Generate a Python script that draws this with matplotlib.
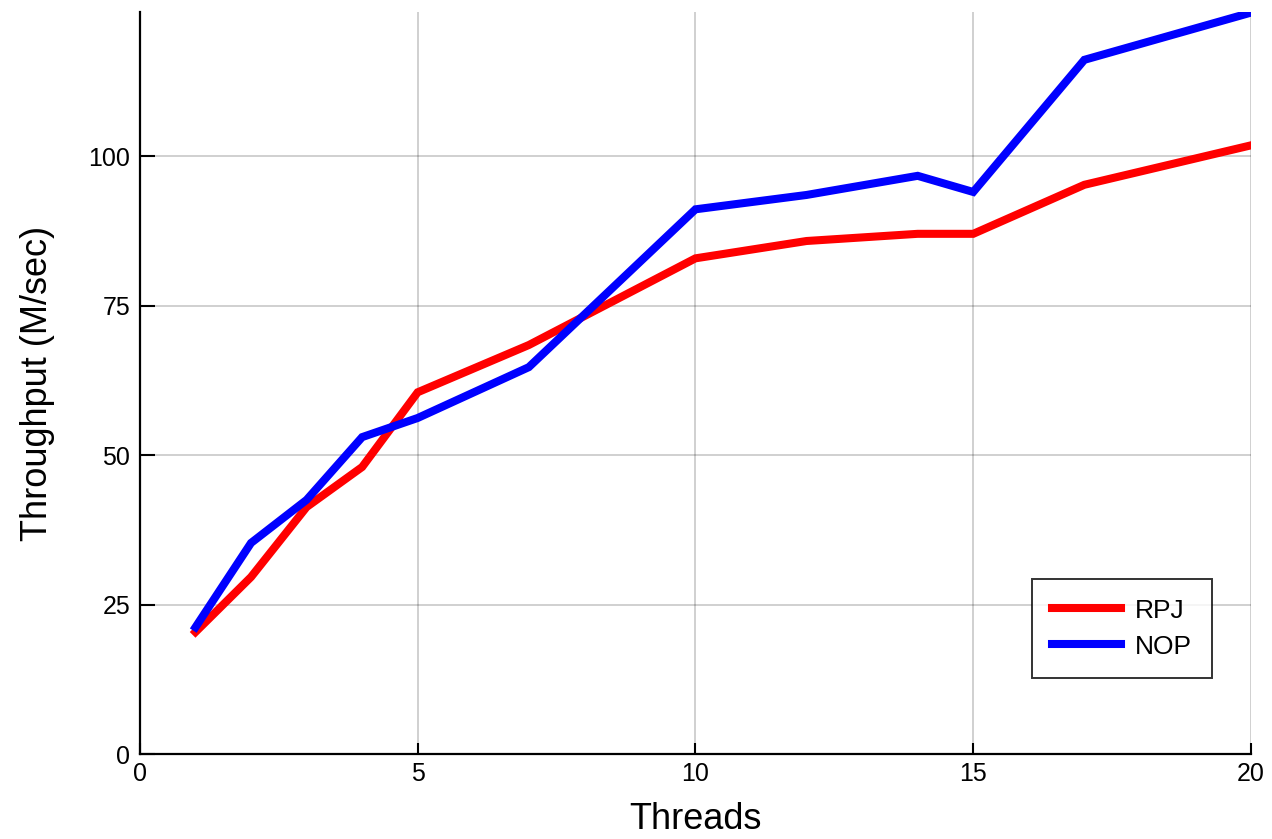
import matplotlib
matplotlib.use("Agg")
import matplotlib.pyplot as plt

plt.rcParams["font.family"] = ["Liberation Sans", "DejaVu Sans"]

# Data
threads = [1, 2, 3, 4, 5, 7, 10, 12, 14, 15, 17, 20]
rpj = [20.4, 29.6, 41.3, 48.0, 60.5, 68.4, 82.9, 85.8, 87.0, 87.0, 95.2, 101.8]
nop = [21.2, 35.3, 42.5, 53.0, 56.2, 64.7, 91.1, 93.5, 96.7, 94.0, 116.1, 124.0]

x_ticks = [0, 5, 10, 15, 20]
y_ticks = [0, 25, 50, 75, 100]

fig = plt.figure(figsize=(12.72, 8.39), dpi=100)
ax = fig.add_axes([0.110, 0.1013, 0.8735, 0.8844])

ax.plot(threads, rpj, color="#ff0000", lw=5.8, label="RPJ", solid_joinstyle="miter")
ax.plot(threads, nop, color="#0000ff", lw=5.8, label="NOP", solid_joinstyle="miter")

ax.set_xlim(0, 20)
ax.set_ylim(0, 124.1)
ax.set_xticks(x_ticks)
ax.set_yticks(y_ticks)
ax.tick_params(direction="in", width=1.5, labelsize=18)
ax.tick_params(axis="x", length=8, pad=6)
ax.tick_params(axis="y", length=11, pad=7)
ax.grid(True, color="#000000", alpha=0.2, lw=1.3)
ax.set_axisbelow(True)

for s in ["top", "right"]:
    ax.spines[s].set_visible(False)
for s in ["left", "bottom"]:
    ax.spines[s].set_linewidth(1.6)

ax.set_xlabel("Threads", fontsize=26, labelpad=11)
ax.set_ylabel("Throughput (M/sec)", fontsize=26, labelpad=24)

leg = ax.legend(loc="lower right", bbox_to_anchor=(0.965, 0.102), borderaxespad=0,
                fontsize=19, frameon=True, fancybox=False, edgecolor="black",
                handlelength=2.6, handletextpad=0.55, borderpad=0.75,
                labelspacing=0.45)
leg.get_frame().set_linewidth(1.4)

fig.savefig("out.png", dpi=100)
